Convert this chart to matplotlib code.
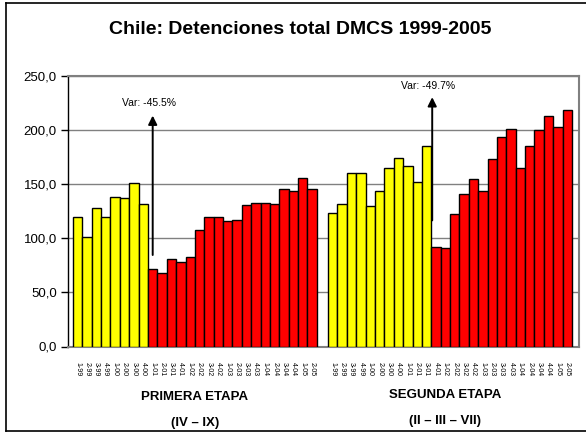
import numpy as np
import matplotlib.pyplot as plt
from matplotlib.lines import Line2D

# primera etapa (IV - IX)
lab1 = ["1-99", "2-99", "3-99", "4-99", "1-00", "2-00", "3-00", "4-00",
        "1-01", "2-01", "3-01", "4-01", "1-02", "2-02", "3-02", "4-02",
        "1-03", "2-03", "3-03", "4-03", "1-04", "2-04", "3-04", "4-04",
        "1-05", "2-05"]
val1 = [120, 101, 128, 120, 138, 137, 151, 132,
        72, 68, 81, 78, 83, 108, 120, 120,
        116, 117, 131, 133, 133, 132, 146, 144,
        156, 146]
n_yellow1 = 8

# segunda etapa (II - III - VII)
lab2 = lab1
val2 = [123, 132, 160, 160, 130, 144, 165, 174, 167, 152, 185,
        92, 91, 122, 141, 155, 144, 173, 194, 201, 165, 185, 200,
        213, 203, 219]
n_yellow2 = 11

plt.rcParams['font.family'] = ['Liberation Sans', 'DejaVu Sans']

fig = plt.figure(figsize=(5.86, 4.33), dpi=100)
ax = fig.add_axes([68 / 586, 1 - 346.5 / 433, 511 / 586, 270.5 / 433])

x1 = np.arange(len(val1))
x2 = np.arange(len(val2)) + len(val1) + 1.2
col1 = ['#FFFF00'] * n_yellow1 + ['#FF0000'] * (len(val1) - n_yellow1)
col2 = ['#FFFF00'] * n_yellow2 + ['#FF0000'] * (len(val2) - n_yellow2)

ax.bar(x1, val1, width=1.0, color=col1, edgecolor='black', linewidth=1.0, zorder=3)
ax.bar(x2, val2, width=1.0, color=col2, edgecolor='black', linewidth=1.0, zorder=3)

ax.set_xlim(-1.03, x2[-1] + 0.5 + 0.75)
ax.set_ylim(0, 250)
ax.set_yticks(np.arange(0, 251, 50))
ax.set_yticklabels([f"{v:.1f}".replace('.', ',') for v in np.arange(0, 251, 50)], fontsize=9.5)
ax.yaxis.grid(True, color='#808080', linewidth=1.0, zorder=0)

ax.set_xticks(np.concatenate([x1, x2]))
ax.set_xticklabels(lab1 + lab2, rotation=270, fontsize=5)
ax.tick_params(axis='x', length=0, pad=11)
ax.tick_params(axis='y', length=5, width=1.0, direction='out', pad=3)

for s in ['top', 'right', 'bottom']:
    ax.spines[s].set_color('#808080')
    ax.spines[s].set_linewidth(1.5)
ax.spines['left'].set_color('black')
ax.spines['left'].set_linewidth(1.0)

# flechas de variacion
ax.annotate("", xy=(x1[n_yellow1], 216), xytext=(x1[n_yellow1], 82),
            arrowprops=dict(arrowstyle='-|>', color='black', lw=1.4, mutation_scale=13), zorder=5)
ax.text(x1[n_yellow1] - 0.4, 220, "Var: -45.5%", ha='center', va='bottom', fontsize=7.5, zorder=5)

ax.annotate("", xy=(x2[n_yellow2] - 0.4, 233), xytext=(x2[n_yellow2] - 0.4, 114),
            arrowprops=dict(arrowstyle='-|>', color='black', lw=1.4, mutation_scale=13), zorder=5)
ax.text(x2[n_yellow2] - 0.8, 236, "Var: -49.7%", ha='center', va='bottom', fontsize=7.5, zorder=5)

fig.text(300 / 586, 1 - 30 / 433, "Chile: Detenciones total DMCS 1999-2005",
         ha='center', va='center', fontsize=14, fontweight='bold')

fig.text(195 / 586, 1 - 397 / 433, "PRIMERA ETAPA", ha='center', va='center', fontsize=9.5, fontweight='bold')
fig.text(195 / 586, 1 - 423 / 433, "(IV \u2013 IX)", ha='center', va='center', fontsize=9.5, fontweight='bold')
fig.text(445 / 586, 1 - 395 / 433, "SEGUNDA ETAPA", ha='center', va='center', fontsize=9.5, fontweight='bold')
fig.text(445 / 586, 1 - 421 / 433, "(II \u2013 III \u2013 VII)", ha='center', va='center', fontsize=9.5, fontweight='bold')

# marco
fx0, fy0, fy1 = 6 / 586, 2 / 433, 1 - 3 / 433
fig.add_artist(Line2D([fx0, 1], [fy1, fy1], color='black', lw=1.2, transform=fig.transFigure))
fig.add_artist(Line2D([fx0, fx0], [fy0, fy1], color='black', lw=1.2, transform=fig.transFigure))
fig.add_artist(Line2D([fx0, 1], [fy0, fy0], color='black', lw=1.2, transform=fig.transFigure))

fig.savefig("out.png", dpi=100)
